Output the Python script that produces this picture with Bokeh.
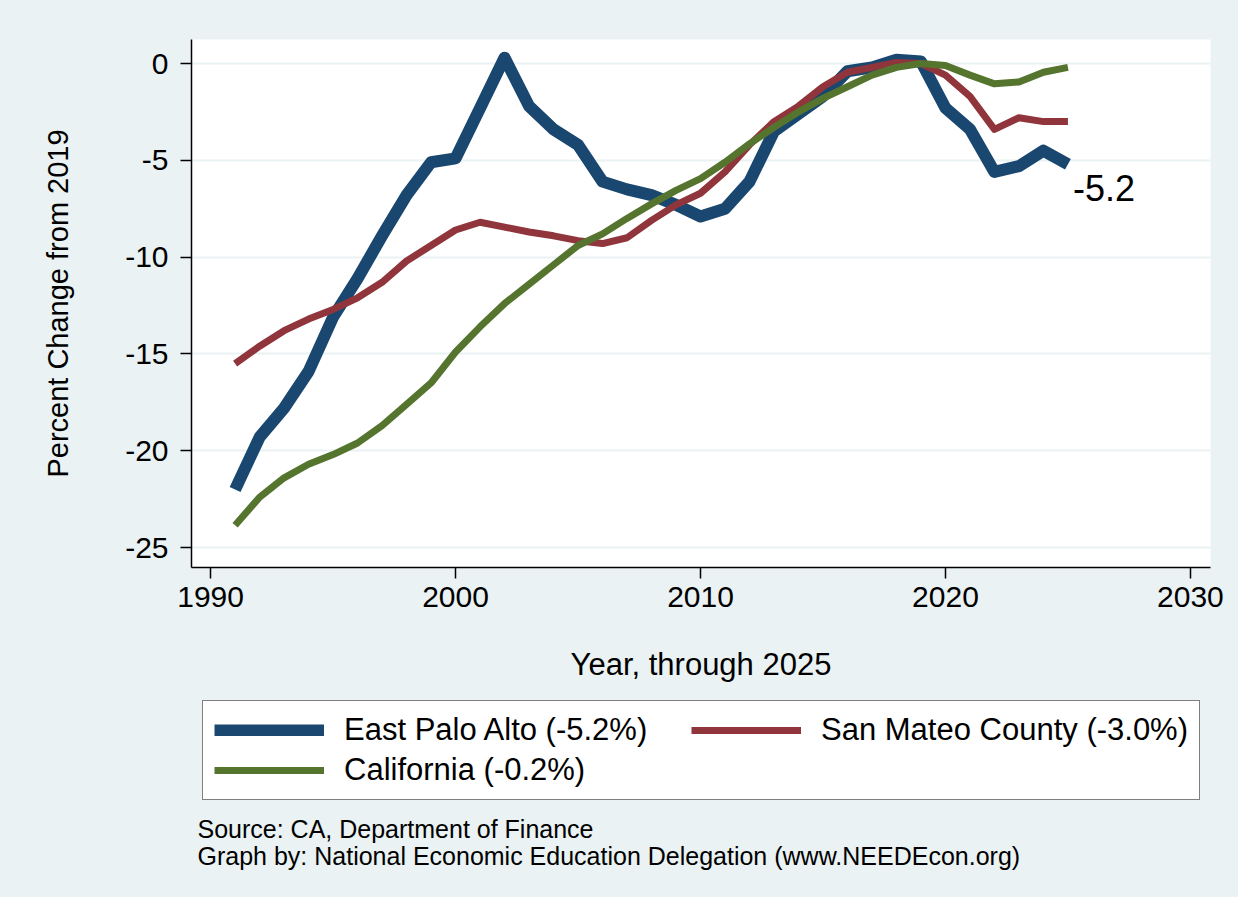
from bokeh.plotting import figure
from bokeh.layouts import column
from bokeh.models import Range1d, FixedTicker, Legend, LegendItem, Label, ColumnDataSource
from bokeh.embed import file_html
from bokeh.resources import INLINE
from bokeh.core.properties import value

# ---- data ----
years = list(range(1991, 2026))
east_palo_alto = [-22.0, -19.3, -17.8, -15.9, -13.1, -11.1, -8.9, -6.8, -5.1, -4.9,
                  -2.3, 0.3, -2.2, -3.4, -4.2, -6.1, -6.5, -6.8, -7.3, -7.9,
                  -7.5, -6.1, -3.5, -2.6, -1.7, -0.4, -0.2, 0.2, 0.1, -2.3,
                  -3.4, -5.6, -5.3, -4.5, -5.2]
san_mateo = [-15.5, -14.6, -13.8, -13.2, -12.7, -12.1, -11.3, -10.2, -9.4, -8.6,
             -8.2, -8.45, -8.7, -8.9, -9.15, -9.3, -9.0, -8.1, -7.3, -6.7,
             -5.6, -4.2, -3.0, -2.2, -1.2, -0.45, -0.2, 0.05, 0.0, -0.6,
             -1.7, -3.4, -2.8, -3.0, -3.0]
california = [-23.85, -22.4, -21.4, -20.7, -20.2, -19.6, -18.7, -17.6, -16.5, -14.9,
              -13.6, -12.4, -11.4, -10.4, -9.4, -8.8, -8.0, -7.25, -6.55, -5.95,
              -5.1, -4.15, -3.3, -2.5, -1.8, -1.2, -0.6, -0.2, 0.0, -0.1,
              -0.6, -1.05, -0.95, -0.45, -0.2]
series_names = ["East Palo Alto", "San Mateo County", "California"]
x_ticks = [1990, 2000, 2010, 2020, 2030]
y_ticks = [-25, -20, -15, -10, -5, 0]
y_tick_labels = ["-25", "-20", "-15", "-10", "-5", "0"]
notes = ["Source: CA, Department of Finance",
         "Graph by: National Economic Education Delegation (www.NEEDEcon.org)"]

FONT = "Liberation Sans"
BG = "#eaf2f3"
colors = ["#1a476f", "#90353b", "#55752f"]
widths = [12, 7, 7]
W = 1238
series = [east_palo_alto, san_mateo, california]

# ---- main chart ----
p = figure(width=W, height=697, output_backend="svg", toolbar_location=None,
           x_range=Range1d(1989.22, 2030.82), y_range=Range1d(-26.03, 1.24),
           min_border_left=191, min_border_right=28, min_border_top=39, min_border_bottom=130)
p.border_fill_color = BG
p.background_fill_color = "white"
p.outline_line_color = None

for ax in (p.xaxis[0], p.yaxis[0]):
    ax.axis_line_color = "black"
    ax.axis_line_width = 1.5
    ax.major_tick_line_color = "black"
    ax.major_tick_line_width = 1.5
    ax.major_tick_out = 11
    ax.major_tick_in = 0
    ax.minor_tick_line_color = None
    ax.major_label_text_font = FONT
    ax.major_label_text_font_size = "30px"
    ax.major_label_text_color = "black"
    ax.axis_label_text_font = FONT
    ax.axis_label_text_font_style = "normal"
    ax.axis_label_text_color = "black"

p.xaxis[0].ticker = FixedTicker(ticks=x_ticks)
p.xaxis[0].major_label_standoff = 8
p.xaxis[0].axis_label = "Year, through 2025"
p.xaxis[0].axis_label_text_font_size = "31px"
p.xaxis[0].axis_label_standoff = 37
p.yaxis[0].ticker = FixedTicker(ticks=y_ticks)
p.yaxis[0].major_label_overrides = {t: s for t, s in zip(y_ticks, y_tick_labels)}
p.yaxis[0].major_label_standoff = 12
p.yaxis[0].axis_label = "Percent Change from 2019"
p.yaxis[0].axis_label_text_font_size = "29px"
p.yaxis[0].axis_label_standoff = 48

p.xgrid.grid_line_color = None
p.ygrid.ticker = FixedTicker(ticks=y_ticks)
p.ygrid.grid_line_color = BG
p.ygrid.grid_line_width = 2

for vals, c, w in zip(series, colors, widths):
    p.line(years, vals, line_color=c, line_width=w, line_join="round", line_cap="butt")

lbl_src = ColumnDataSource(dict(x=[years[-1]], y=[east_palo_alto[-1]],
                                t=[f"{east_palo_alto[-1]:.1f}"]))
p.text(x="x", y="y", text="t", source=lbl_src, x_offset=5, y_offset=24,
       text_align="left", text_baseline="middle", text_color="black",
       text_font=value(FONT), text_font_size="36px")

# ---- legend + notes strip (frame aligned with the chart above) ----
p2 = figure(width=W, height=200, output_backend="svg", toolbar_location=None,
            x_range=Range1d(0, 1), y_range=Range1d(0, 1),
            x_axis_type=None, y_axis_type=None,
            min_border_left=191, min_border_right=28, min_border_top=0, min_border_bottom=0)
p2.border_fill_color = BG
p2.background_fill_alpha = 0
p2.outline_line_color = None
p2.xgrid.grid_line_color = None
p2.ygrid.grid_line_color = None

items = []
for n, vals, c, w in zip(series_names, series, colors, widths):
    # same series; lies outside this strip's ranges, only its legend swatch shows
    r = p2.line(x=years, y=vals, line_color=c, line_width=w)
    items.append(LegendItem(label=f"{n} ({vals[-1]:.1f}%)", renderers=[r]))
legend = Legend(items=items, location=(11, 97), orientation="horizontal", ncols=2,
                border_line_color="black", border_line_width=1.5,
                background_fill_color="white", background_fill_alpha=1.0,
                padding=11, spacing=4, margin=0, label_standoff=20,
                glyph_width=110, glyph_height=12, label_width=343, label_height=33,
                label_text_font=FONT, label_text_font_size="31px",
                label_text_color="black", label_text_baseline="middle")
p2.add_layout(legend)

for txt, yy in zip(notes, [69, 42]):
    p2.add_layout(Label(x=6, y=yy, x_units="screen", y_units="screen", text=txt,
                        text_align="left", text_baseline="middle",
                        text_font=FONT, text_font_size="25px", text_color="black"))

layout = column(p, p2, spacing=0, styles={"background-color": BG})
open("out.html", "w").write(file_html(layout, INLINE))
